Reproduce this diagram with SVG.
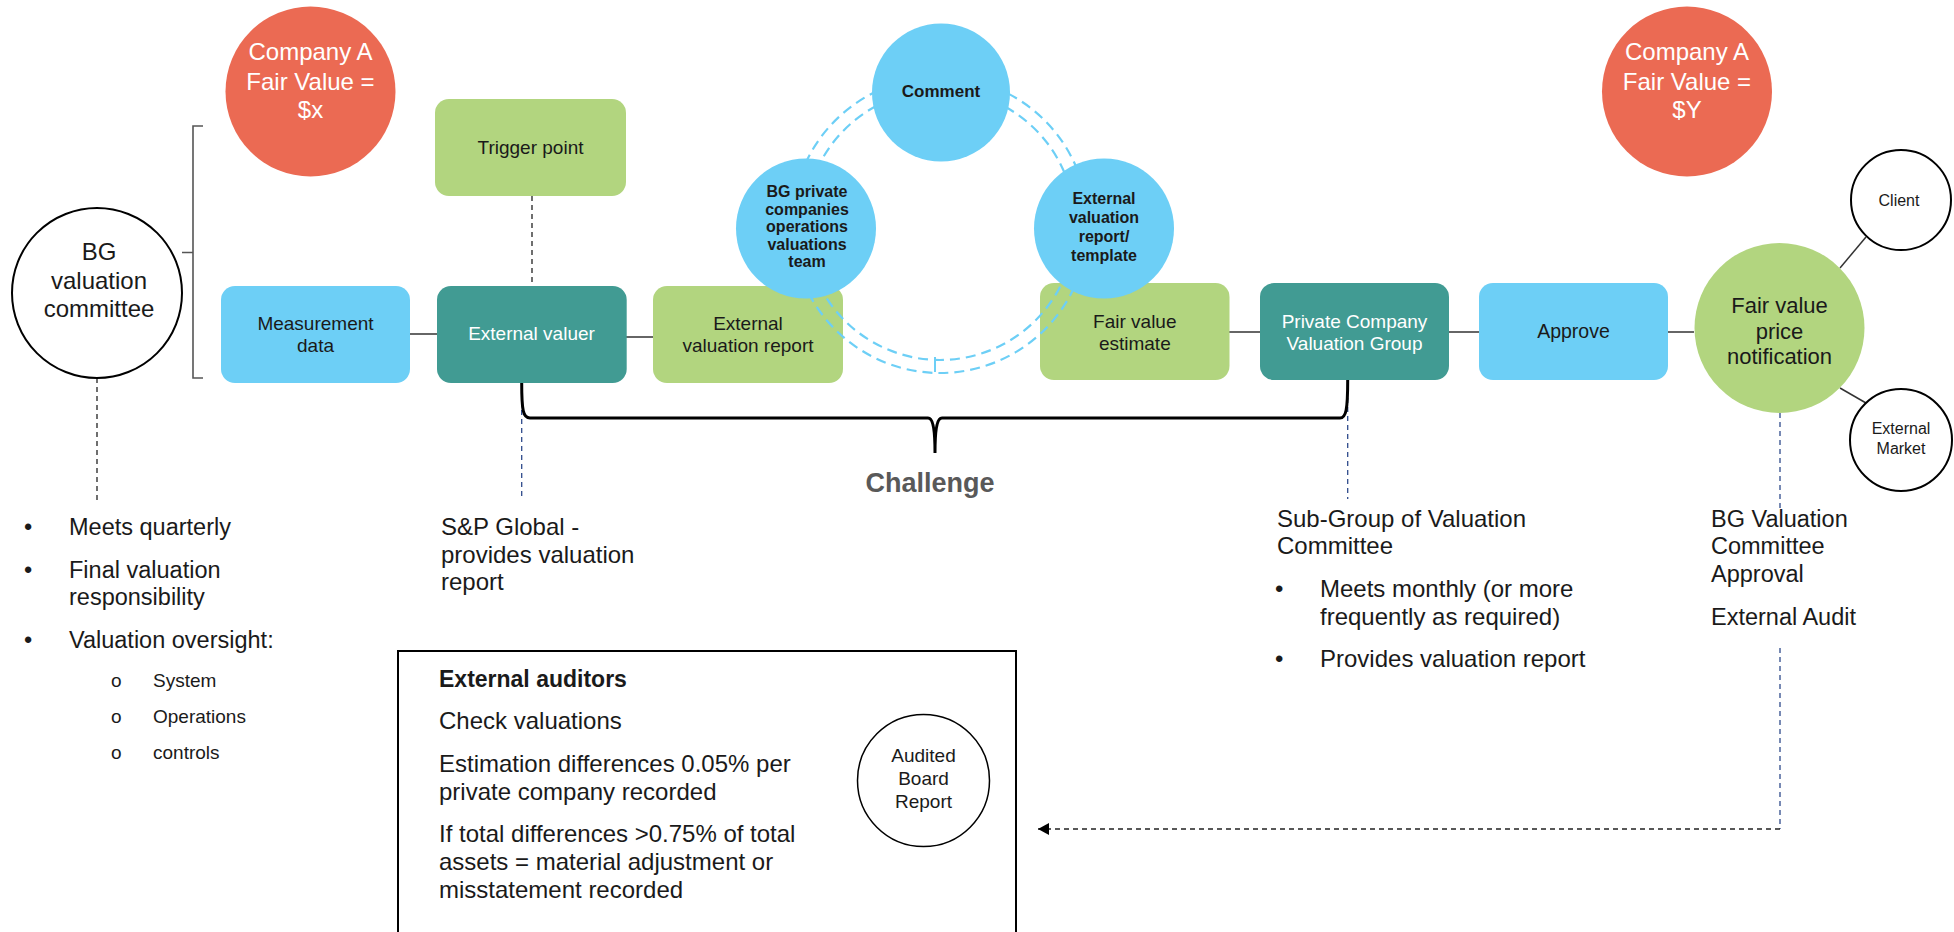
<svg xmlns="http://www.w3.org/2000/svg" width="1954" height="932" viewBox="0 0 1954 932">
<defs>
<style>
text{font-family:"Liberation Sans",Arial,Helvetica,sans-serif;fill:#1a1a1a}
.blue{fill:#6DCFF6}
.green{fill:#B2D57F}
.teal{fill:#419B93}
.red{fill:#EB6A53}
.c{text-anchor:middle}
.f19{font-size:19px}
.f16{font-size:16px}
.f22{font-size:22px}
.f24{font-size:24px}
.b16{font-size:16px;font-weight:bold}
.wt{fill:#fff}
.conn{stroke:#333;stroke-width:1.5;fill:none}
.dnavy{stroke:#2F4B8C;stroke-width:1.3;stroke-dasharray:5 4;fill:none}
.ddark{stroke:#222;stroke-width:1.3;stroke-dasharray:5 4;fill:none}
.ring{stroke:#6DCFF6;stroke-width:2.2;stroke-dasharray:10 6;fill:none}
.outline{fill:#fff;stroke:#000;stroke-width:2}
.body{font-size:23.5px}
.sub{font-size:19px}
</style>
<marker id="arrow" markerWidth="12" markerHeight="12" refX="11" refY="6" orient="auto" markerUnits="userSpaceOnUse">
<path d="M0,0 L11,6 L0,12 z" fill="#000"/>
</marker>
</defs>

<g id="connectors">
<line class="conn" x1="410" y1="334" x2="437" y2="334"/>
<line class="conn" x1="626" y1="337" x2="653" y2="337"/>
<line class="conn" x1="1229" y1="332" x2="1260" y2="332"/>
<line class="conn" x1="1449" y1="332" x2="1479" y2="332"/>
<line class="conn" x1="1668" y1="332" x2="1694" y2="332"/>
<line class="conn" x1="1840" y1="268" x2="1866" y2="237"/>
<line class="conn" x1="1840" y1="388" x2="1866" y2="403"/>
<line class="ddark" stroke="#555" x1="532" y1="196" x2="532" y2="286"/>
<line class="ddark" x1="97" y1="378" x2="97" y2="500"/>
<line class="dnavy" x1="521.7" y1="383" x2="521.7" y2="500"/>
<line class="dnavy" x1="1347.7" y1="380" x2="1347.7" y2="499"/>
<line class="dnavy" x1="1780" y1="413" x2="1780" y2="508"/>
<path class="dnavy" d="M1780 648 V829"/>
<path class="ddark" d="M1780 829 H1038" marker-end="url(#arrow)"/>
<path d="M521.7 383 C521.7 410 523 418 530 418 L928 418 C932 418 935 425 935 453 C935 425 938 418 942 418 L1340 418 C1346 418 1347.7 410 1347.7 380" fill="none" stroke="#000" stroke-width="3"/>
<path d="M203 126 H193 V378 H203 M193 252.5 H182" fill="none" stroke="#555" stroke-width="1.6"/>
</g>

<g id="company-a-x">
<circle class="red" cx="310.5" cy="91.5" r="85"/>
<text class="c f24 wt" x="310.5" y="60">Company A</text>
<text class="c f24 wt" x="310.5" y="90">Fair Value =</text>
<text class="c f24 wt" x="310.5" y="118">$x</text>
</g>

<g id="company-a-y">
<circle class="red" cx="1687" cy="91.5" r="85"/>
<text class="c f24 wt" x="1687" y="60">Company A</text>
<text class="c f24 wt" x="1687" y="90">Fair Value =</text>
<text class="c f24 wt" x="1687" y="118">$Y</text>
</g>

<g id="bg-valuation-committee">
<circle class="outline" cx="97" cy="293" r="85"/>
<text class="c f24" x="99" y="260">BG</text>
<text class="c f24" x="99" y="289">valuation</text>
<text class="c f24" x="99" y="317">committee</text>
</g>

<g id="trigger-point">
<rect class="green" x="435" y="99" width="191" height="97" rx="14"/>
<text class="c f19" x="530.5" y="154">Trigger point</text>
</g>

<g id="measurement-data">
<rect class="blue" x="221" y="286" width="189" height="97" rx="14"/>
<text class="c f19" x="315.5" y="330">Measurement</text>
<text class="c f19" x="315.5" y="352">data</text>
</g>

<g id="external-valuer">
<rect class="teal" x="437" y="286" width="189.7" height="97" rx="14"/>
<text class="c f19 wt" x="531.5" y="340">External valuer</text>
</g>

<g id="external-valuation-report">
<rect class="green" x="653" y="286" width="190" height="97" rx="14"/>
<text class="c f19" x="748" y="330">External</text>
<text class="c f19" x="748" y="352">valuation report</text>
</g>

<g id="fair-value-estimate">
<rect class="green" x="1040" y="283" width="189.5" height="97" rx="14"/>
<text class="c f19" x="1134.8" y="328">Fair value</text>
<text class="c f19" x="1134.8" y="350">estimate</text>
</g>

<g id="private-company-valuation-group">
<rect class="teal" x="1260" y="283" width="189" height="97" rx="14"/>
<text class="c f19 wt" x="1354.5" y="328">Private Company</text>
<text class="c f19 wt" x="1354.5" y="350">Valuation Group</text>
</g>

<g id="approve">
<rect class="blue" x="1479" y="283" width="189" height="97" rx="14"/>
<text class="c" font-size="19.5" x="1573.5" y="338">Approve</text>
</g>

<g id="challenge-ring">
<circle class="ring" cx="940" cy="225" r="148"/>
<circle class="ring" cx="940" cy="225" r="135"/>
<line x1="935" y1="357" x2="935" y2="372" stroke="#6DCFF6" stroke-width="2"/>
</g>

<g id="comment">
<circle class="blue" cx="941" cy="92.5" r="69"/>
<text class="c" font-size="17" font-weight="bold" x="941" y="97">Comment</text>
</g>

<g id="bg-private-companies-team">
<circle class="blue" cx="806" cy="228.5" r="70"/>
<text class="c b16" x="807" y="197">BG private</text>
<text class="c b16" x="807" y="214.5">companies</text>
<text class="c b16" x="807" y="232">operations</text>
<text class="c b16" x="807" y="249.5">valuations</text>
<text class="c b16" x="807" y="267">team</text>
</g>

<g id="external-valuation-template">
<circle class="blue" cx="1104" cy="228.5" r="70"/>
<text class="c b16" x="1104" y="204">External</text>
<text class="c b16" x="1104" y="223">valuation</text>
<text class="c b16" x="1104" y="242">report/</text>
<text class="c b16" x="1104" y="261">template</text>
</g>

<g id="fair-value-price-notification">
<circle class="green" cx="1779.5" cy="328" r="85"/>
<text class="c f22" x="1779.5" y="313">Fair value</text>
<text class="c f22" x="1779.5" y="339">price</text>
<text class="c f22" x="1779.5" y="364">notification</text>
</g>

<g id="client">
<circle class="outline" cx="1901" cy="200" r="50"/>
<text class="c f16" x="1899" y="206">Client</text>
</g>

<g id="external-market">
<circle class="outline" cx="1901" cy="440" r="51"/>
<text class="c f16" x="1901" y="434">External</text>
<text class="c f16" x="1901" y="454">Market</text>
</g>

<g id="challenge-label">
<text class="c" font-size="27" font-weight="bold" style="fill:#595959" x="930" y="492">Challenge</text>
</g>

<g id="committee-notes">
<text class="body" x="24" y="535">•</text>
<text class="body" x="69" y="535">Meets quarterly</text>
<text class="body" x="24" y="578">•</text>
<text class="body" x="69" y="578">Final valuation</text>
<text class="body" x="69" y="605">responsibility</text>
<text class="body" x="24" y="648">•</text>
<text class="body" x="69" y="648">Valuation oversight:</text>
<text class="sub" x="111" y="687">o</text>
<text class="sub" x="153" y="687">System</text>
<text class="sub" x="111" y="723">o</text>
<text class="sub" x="153" y="723">Operations</text>
<text class="sub" x="111" y="759">o</text>
<text class="sub" x="153" y="759">controls</text>
</g>

<g id="sp-global-note">
<text class="f24" x="441" y="535">S&amp;P Global -</text>
<text class="f24" x="441" y="563">provides valuation</text>
<text class="f24" x="441" y="590">report</text>
</g>

<g id="sub-group-note">
<text class="f24" x="1277" y="527">Sub-Group of Valuation</text>
<text class="f24" x="1277" y="554">Committee</text>
<text class="f24" x="1275" y="597">•</text>
<text class="f24" x="1320" y="597">Meets monthly (or more</text>
<text class="f24" x="1320" y="625">frequently as required)</text>
<text class="f24" x="1275" y="667">•</text>
<text class="f24" x="1320" y="667">Provides valuation report</text>
</g>

<g id="approval-note">
<text class="body" x="1711" y="527">BG Valuation</text>
<text class="body" x="1711" y="554">Committee</text>
<text class="body" x="1711" y="582">Approval</text>
<text class="body" x="1711" y="625">External Audit</text>
</g>

<g id="external-auditors">
<rect x="398" y="651" width="618" height="300" fill="none" stroke="#000" stroke-width="2"/>
<text font-size="23" font-weight="bold" x="439" y="687">External auditors</text>
<text class="f24" x="439" y="729">Check valuations</text>
<text class="f24" x="439" y="772">Estimation differences 0.05% per</text>
<text class="f24" x="439" y="800">private company recorded</text>
<text class="f24" x="439" y="842">If total differences &gt;0.75% of total</text>
<text class="f24" x="439" y="870">assets = material adjustment or</text>
<text class="f24" x="439" y="898">misstatement recorded</text>
</g>

<g id="audited-board-report">
<circle fill="#fff" stroke="#000" stroke-width="1.5" cx="923.5" cy="780.5" r="66"/>
<text class="c f19" x="923.5" y="762">Audited</text>
<text class="c f19" x="923.5" y="785">Board</text>
<text class="c f19" x="923.5" y="808">Report</text>
</g>
</svg>
